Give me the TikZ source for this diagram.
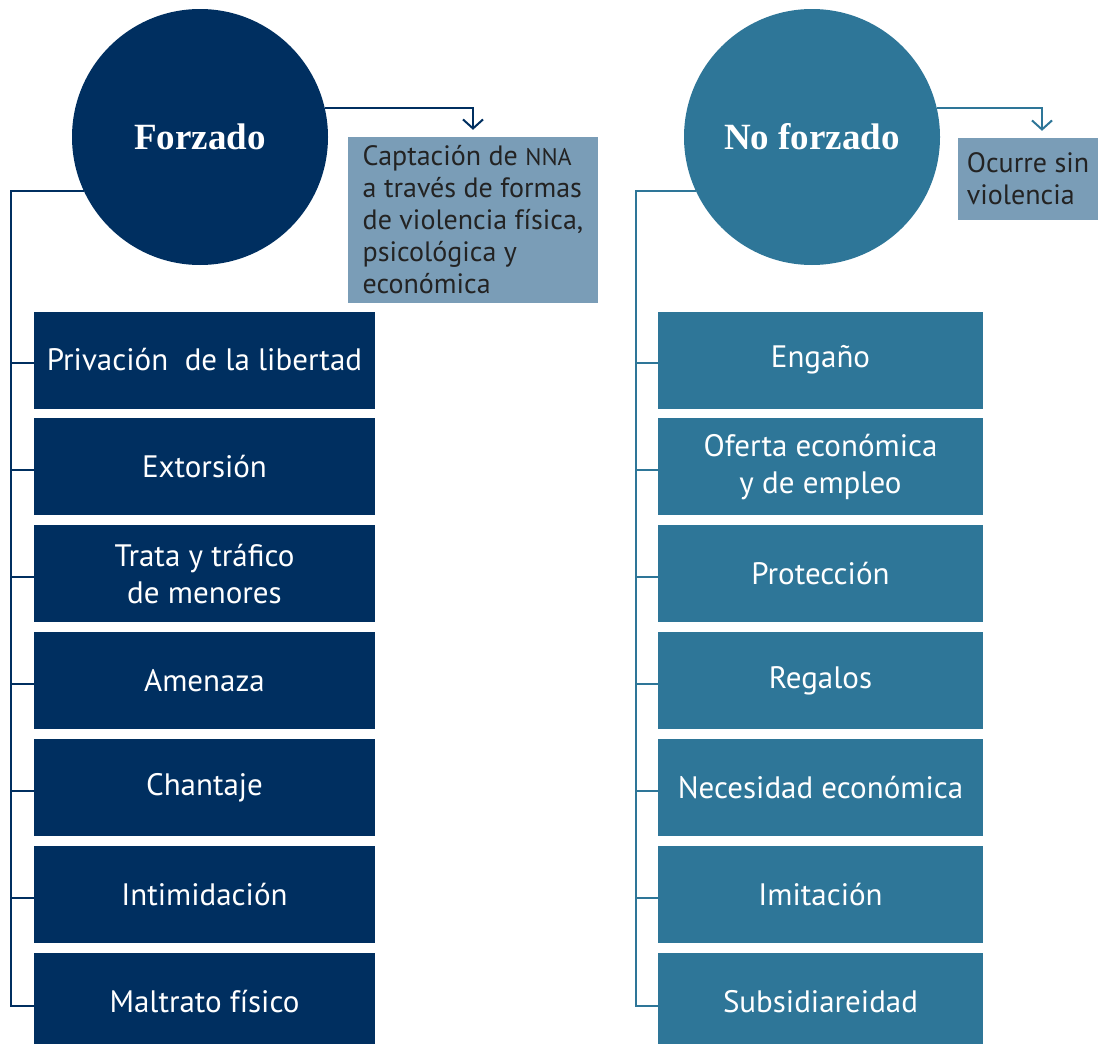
\documentclass[tikz,border=0pt]{standalone}
\usepackage{fontspec}
\setmainfont{PT Sans}
\newfontfamily\headfont{Liberation Serif}
\usetikzlibrary{positioning,arrows.meta}
\definecolor{cforz}{RGB}{0,47,96}
\definecolor{cnoforz}{RGB}{46,118,152}
\definecolor{cnote}{RGB}{122,157,183}
\definecolor{cnotetext}{RGB}{35,35,35}

\begin{document}
\begin{tikzpicture} [
	x=1pt,y=-1pt,
	text centered,
	node distance=9.5pt,
	nhub/.style={
		circle,minimum size=256pt,inner sep=0pt,text=white,
		font=\headfont\bfseries\fontsize{37}{40}\selectfont
	},
	nforz/.style={
		rectangle,minimum width=341pt,minimum height=97pt,
		fill=cforz,text=white,align=center,
		font=\fontsize{31}{37}\selectfont
	},
	nnoforz/.style={
		nforz,minimum width=325pt,fill=cnoforz
	},
	nnote/.style={
		rectangle,fill=cnote,text=cnotetext,align=left,
		font=\fontsize{28}{32}\selectfont
	},
	lforz/.style={draw=cforz,line width=2pt},
	lnoforz/.style={draw=cnoforz,line width=2pt},
	tip/.style={-{Straight Barb[length=9pt,width=20pt]}}
]
\useasboundingbox (0,0) rectangle (1098,1044);
% forzado
\node [nhub,fill=cforz]	(forzado) at (200,137)	{Forzado};
\node [nnote,minimum width=250pt,minimum height=166pt]	(note1) at (473,220)
	{Captación de {\fontsize{24}{32}\selectfont NNA}\\a través de formas\\de violencia física,\\psicológica y\\económica};
\node [nforz]	(f1) at (204.5,360)		{Privación~ de la libertad};
\node [nforz]	(f2)[below=of f1]		{Extorsión};
\node [nforz]	(f3)[below=of f2]		{Trata y tráfico\\de menores};
\node [nforz]	(f4)[below=of f3]		{Amenaza};
\node [nforz]	(f5)[below=of f4]		{Chantaje};
\node [nforz]	(f6)[below=of f5]		{Intimidación};
\node [nforz]	(f7)[below=of f6]		{Maltrato físico};
% no forzado
\node [nhub,fill=cnoforz]	(noforz) at (812,137)	{No forzado};
\node [nnote,minimum width=140pt,minimum height=82pt]	(note2) at (1028,179)
	{Ocurre sin\\violencia};
\node [nnoforz]	(n1) at (820.5,360)		{Engaño};
\node [nnoforz]	(n2)[below=of n1]		{Oferta económica\\y de empleo};
\node [nnoforz]	(n3)[below=of n2]		{Protección};
\node [nnoforz]	(n4)[below=of n3]		{Regalos};
\node [nnoforz]	(n5)[below=of n4]		{Necesidad económica};
\node [nnoforz]	(n6)[below=of n5]		{Imitación};
\node [nnoforz]	(n7)[below=of n6]		{Subsidiareidad};
% links
\coordinate (frail) at (11,1006);
\coordinate (nrail) at (636,1006);
\draw [lforz,tip] (forzado.13.6) -| ([yshift=7pt]note1.north);
\draw [lnoforz,tip] (noforz.13.6) -| ([xshift=14pt,yshift=7pt]note2.north);
\draw [lforz] (forzado.205.4) -| (frail) -- (frail -| f7.west);
\draw [lnoforz] (noforz.205.4) -| (nrail) -- (nrail -| n7.west);
\foreach \i in {1,...,6} {
	\draw [lforz] ([yshift=-3pt]frail |- f\i.west) -- ([yshift=-3pt]f\i.west);
	\draw [lnoforz] ([yshift=-3pt]nrail |- n\i.west) -- ([yshift=-3pt]n\i.west);
}
\end{tikzpicture}
\end{document}
